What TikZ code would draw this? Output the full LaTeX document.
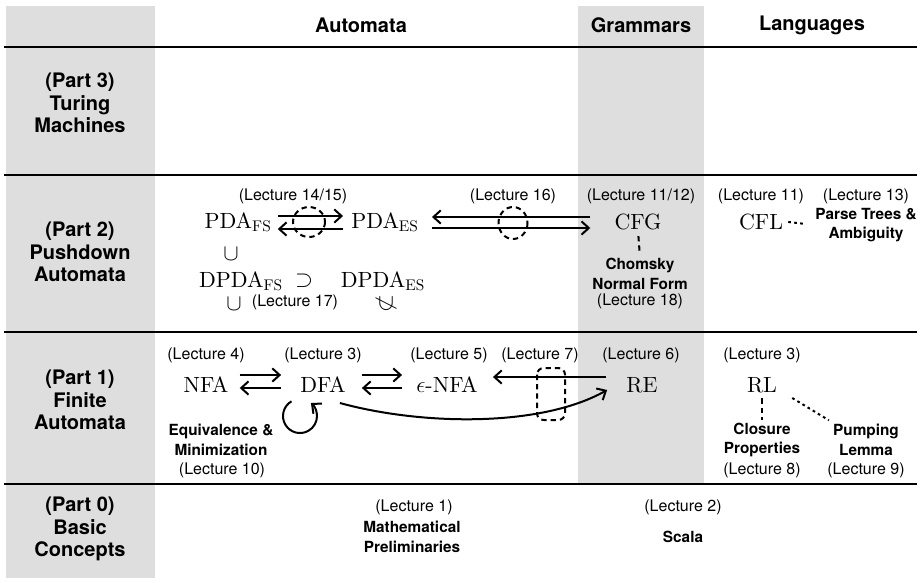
\documentclass[tikz,border=0pt]{standalone}
\usepackage{fontspec}
\setsansfont{TeX Gyre Heros}
\newfontfamily\cmfont{lmroman10-regular}[Extension=.otf]
\usepackage{amsmath}
\usepackage{graphicx}
\usepackage{tikz}
\usetikzlibrary{arrows.meta,calc}

\begin{document}
\begin{tikzpicture}[x=0.75pt,y=0.75pt,yscale=-1,xscale=1,
  hdr/.style={font=\sffamily\bfseries\fontsize{15}{16.8}\selectfont, inner sep=0.75pt, align=center},
  topic/.style={font=\sffamily\bfseries\fontsize{11.5}{14.5}\selectfont, inner sep=0.75pt, align=center},
  lec/.style={font=\sffamily\fontsize{12}{14.5}\selectfont, inner sep=0.75pt},
  cls/.style={font=\cmfont\fontsize{16.5}{19}\selectfont, inner sep=0.75pt, anchor=base},
  rel/.style={font=\cmfont\fontsize{16.5}{19}\selectfont, inner sep=0pt},
  arr/.style={line width=1.5pt, -{Straight Barb[length=5.5pt,width=10pt]}},
  dsh/.style={line width=1.5pt, dash pattern=on 4pt off 3pt},
  dots/.style={line width=1.5pt, dash pattern=on 2pt off 2.5pt},
  rule/.style={line width=2.2pt},
  shade/.style={fill={rgb, 255:red, 222; green, 222; blue, 222 }}]

\useasboundingbox (0,0) rectangle (920,582);

%Shape: Rectangle
\fill[shade] (6,6) rectangle (155,578);
%Shape: Rectangle
\fill[shade] (578,6) rectangle (704,484);

%Straight Lines
\draw[rule] (4,47) -- (917,47);
%Straight Lines
\draw[rule] (4,175) -- (917,175);
%Straight Lines
\draw[rule] (4,332) -- (917,332);
%Straight Lines
\draw[rule] (4,484) -- (917,484);

% Text Node
\node[hdr] (hauto) at (361,25) {Automata};
% Text Node
\node[hdr] (hgram) at (641,25) {Grammars};
% Text Node
\node[hdr] (hlang) at (812,25) {Languages};

% Text Node
\node[hdr] (part3) at (80,103) {(Part 3)\\Turing\\Machines};
% Text Node
\node[hdr] (part2) at (80,252) {(Part 2)\\Pushdown\\Automata};
% Text Node
\node[hdr] (part1) at (80,400) {(Part 1)\\Finite\\Automata};
% Text Node
\node[hdr] (part0) at (80,529) {(Part 0)\\Basic\\Concepts};

% Text Node
\node[lec] (lec1415) at (293,196) {(Lecture 14/15)};
% Text Node
\node[cls] (pdafs) at (238,228) {PDA$_{\text{FS}}$};
% Text Node
\node[cls] (pdaes) at (385,228) {PDA$_{\text{ES}}$};
% Text Node
\node[rel] (sub1) at (231,254) {$\cup$};
% Text Node
\node[cls] (dpdafs) at (241,287) {DPDA$_{\text{FS}}$};
% Text Node
\node[rel] (sup1) at (304,281) {$\supset$};
% Text Node
\node[cls] (dpdaes) at (383,287) {DPDA$_{\text{ES}}$};
% Text Node
\node[rel] (sub2) at (234,304) {$\cup$};
% Text Node
\node[lec] (lec17) at (295,302) {(Lecture 17)};
% Text Node
\node[rel] (nsub) at (386,304) {\rotatebox{90}{$\not\subset$}};
% Text Node
\node[lec] (lec16) at (513,196) {(Lecture 16)};
% Text Node
\node[lec] (lec1112) at (641,196) {(Lecture 11/12)};
% Text Node
\node[cls] (cfg) at (638,229) {CFG};
% Text Node
\node[topic] (cnf) at (640,274) {Chomsky\\Normal Form};
% Text Node
\node[lec] (lec18) at (640,301) {(Lecture 18)};
% Text Node
\node[lec] (lec11) at (761,196) {(Lecture 11)};
% Text Node
\node[cls] (cfl) at (761,229) {CFL};
% Text Node
\node[lec] (lec13) at (866,196) {(Lecture 13)};
% Text Node
\node[topic] (ptree) at (866,225) {Parse Trees \&\\Ambiguity};

%Straight Lines
\draw[arr] ($(pdafs.base east)+(5,-12)$) -- ($(pdaes.base west)+(-7,-12)$);
\draw[arr] ($(pdaes.base west)+(-7,1)$) -- ($(pdafs.base east)+(5,1)$);
%Shape: Ellipse
\draw[dsh] (309,222) ellipse [x radius=16, y radius=15];
%Straight Lines
\draw[arr] ($(cfg.base west)+(-23,-12)$) -- ($(pdaes.base east)+(12,-11)$);
\draw[arr] ($(pdaes.base east)+(12,0)$) -- ($(cfg.base west)+(-23,-1)$);
%Shape: Ellipse
\draw[dsh] (513,223) ellipse [x radius=14.5, y radius=16];
%Straight Lines
\draw[dsh, shorten <=4pt, shorten >=3pt] (cfg.south) -- (cnf.north);
\draw[dots, shorten <=3pt, shorten >=8pt] (cfl.east) -- (ptree.west);

% Text Node
\node[lec] (lec4) at (206,355) {(Lecture 4)};
% Text Node
\node[cls] (nfa) at (206,392) {NFA};
% Text Node
\node[lec] (lec3a) at (323,355) {(Lecture 3)};
% Text Node
\node[cls] (dfa) at (323,392) {DFA};
% Text Node
\node[lec] (lec5) at (449,355) {(Lecture 5)};
% Text Node
\node[cls] (enfa) at (447,392) {$\epsilon$-NFA};
% Text Node
\node[lec] (lec7) at (540,355) {(Lecture 7)};
% Text Node
\node[lec] (lec6) at (641,355) {(Lecture 6)};
% Text Node
\node[cls] (re) at (642,392) {RE};
% Text Node
\node[lec] (lec3b) at (762,355) {(Lecture 3)};
% Text Node
\node[cls] (rl) at (762,392) {RL};
% Text Node
\node[topic] (equiv) at (221,440) {Equivalence \&\\Minimization};
% Text Node
\node[lec] (lec10) at (222,470) {(Lecture 10)};
% Text Node
\node[topic] (closure) at (762,440) {Closure\\Properties};
% Text Node
\node[lec] (lec8) at (762,470) {(Lecture 8)};
% Text Node
\node[topic] (pump) at (866,440) {Pumping\\Lemma};
% Text Node
\node[lec] (lec9) at (866,470) {(Lecture 9)};

%Straight Lines
\draw[arr] ($(nfa.base east)+(10,-17)$) -- ($(dfa.base west)+(-18,-17)$);
\draw[arr] ($(dfa.base west)+(-18,-4)$) -- ($(nfa.base east)+(10,-4)$);
%Straight Lines
\draw[arr] ($(dfa.base east)+(15,-17)$) -- ($(enfa.base west)+(-13,-17)$);
\draw[arr] ($(enfa.base west)+(-13,-4)$) -- ($(dfa.base east)+(15,-4)$);
%Straight Lines
\draw[arr] ($(re.base west)+(-19,-15)$) -- ($(enfa.base east)+(14,-15)$);
%Curve Lines
\draw[arr] ($(dfa.base east)+(-7,11)$) .. controls +(80,22) and +(-68,38) .. ($(re.base west)+(-18,-2)$);
%Shape: Rectangle
\draw[dsh, rounded corners=5pt] (537,368) rectangle (565,420);
%Curve Lines
\draw[arr] ($(dfa.base)+(-31.5,9.3)$) arc[start angle=-120, end angle=-410, radius=17];
%Straight Lines
\draw[dsh, shorten <=3.5pt, shorten >=1.5pt] (rl.south) -- (closure.north);
\draw[dots] ($(rl.base east)+(14,6)$) -- ($(pump.north west)+(-3,-3)$);

% Text Node
\node[lec] (lec1) at (414,507) {(Lecture 1)};
% Text Node
\node[topic] (math) at (412,537) {Mathematical\\Preliminaries};
% Text Node
\node[lec] (lec2) at (683,507) {(Lecture 2)};
% Text Node
\node[topic] (scala) at (683,537) {Scala};

\end{tikzpicture}
\end{document}
